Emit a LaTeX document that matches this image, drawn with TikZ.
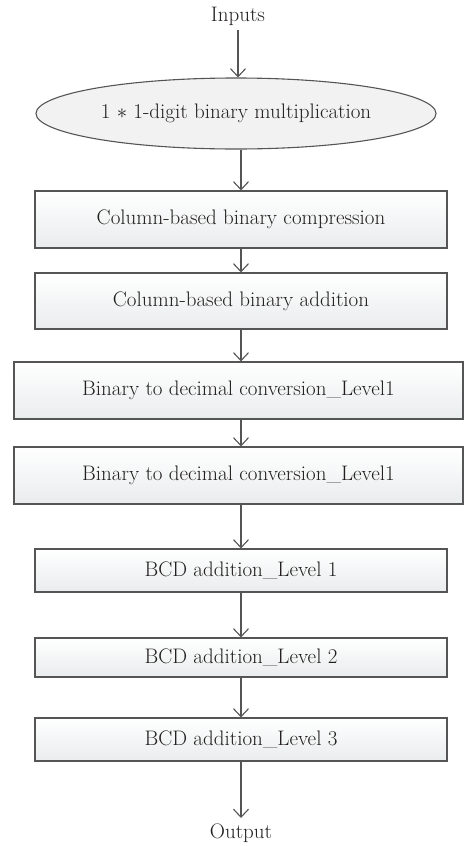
\documentclass[tikz,border=0pt]{standalone}
\usetikzlibrary{arrows.meta,shapes.geometric}
\definecolor{inkline}{HTML}{555555}
\definecolor{inktext}{HTML}{231F20}
\definecolor{boxlow}{HTML}{E9ECED}
\definecolor{ellfill}{HTML}{F2F2F2}
\begin{document}
\begin{tikzpicture}[x=1pt,y=-1pt,
  every node/.style={text=inktext,font=\fontsize{21}{25}\selectfont},
  stagebox/.style={draw=inkline,line width=1.1pt,rectangle,inner sep=0pt,
    top color=white,bottom color=boxlow,minimum height=#1},
  widebox/.style={stagebox=#1,minimum width=449pt},
  normbox/.style={stagebox=#1,minimum width=412pt},
  flow/.style={draw=inkline,line width=1.1pt,-{Straight Barb[length=8pt,width=15pt,line width=1.1pt]}}]
\useasboundingbox (0,0) rectangle (464,846);

\node[anchor=base] (in) at (238,21) {Inputs};
\node[ellipse,draw=inkline,line width=1.1pt,fill=ellfill,inner sep=0pt,
  minimum width=400pt,minimum height=71pt] (ell) at (236,113.5)
  {1 $\ast$ 1-digit binary multiplication};

\node[normbox=57pt] (b1) at (241,219.5) {Column-based binary compression};
\node[normbox=56pt] (b2) at (241,301) {Column-based binary addition};
\node[widebox=57pt] (b3) at (238.5,390.5) {Binary to decimal conversion\_Level1};
\node[widebox=57pt] (b4) at (238.5,475.5) {Binary to decimal conversion\_Level1};
\node[normbox=43pt] (b5) at (241,570.5) {BCD addition\_Level 1};
\node[normbox=39pt] (b6) at (241,657.5) {BCD addition\_Level 2};
\node[normbox=43pt] (b7) at (241,739.5) {BCD addition\_Level 3};

\node[anchor=base] (out) at (241,838) {Output};
\coordinate (inend) at (238,30);
\coordinate (outend) at (241,818);

\draw[flow] (inend) -- (inend |- ell.north);
\draw[flow] (b1.north |- ell.south) -- (b1.north);
\draw[flow] (b1.south) -- (b2.north);
\draw[flow] (b2.south) -- (b2.south |- b3.north);
\draw[flow] (b2.south |- b3.south) -- (b2.south |- b4.north);
\draw[flow] (b2.south |- b4.south) -- (b5.north);
\draw[flow] (b5.south) -- (b6.north);
\draw[flow] (b6.south) -- (b7.north);
\draw[flow] (b7.south) -- (outend);
\end{tikzpicture}
\end{document}
